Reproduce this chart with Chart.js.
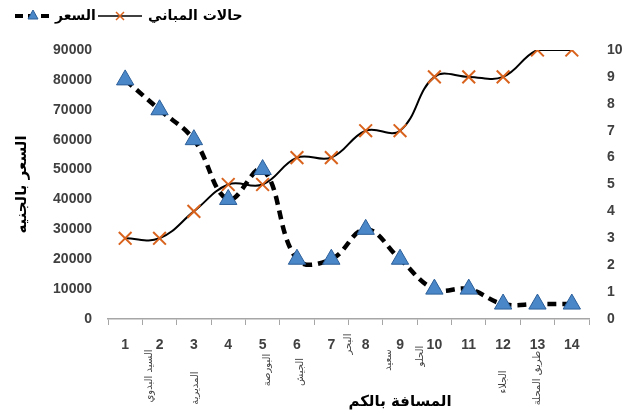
<!DOCTYPE html>
<html>
<head>
<meta charset="utf-8">
<script src="https://cdn.jsdelivr.net/npm/chart.js@4.4.1/dist/chart.umd.min.js"></script>
<style>
  html, body { margin: 0; padding: 0; background: #fff; }
  #wrap { width: 629px; height: 414px; position: relative; }
</style>
</head>
<body>
<div id="wrap"><canvas id="c" width="629" height="414"></canvas></div>
<script>
// Distance from the centre (km)
const distances = ['1','2','3','4','5','6','7','8','9','10','11','12','13','14'];
// Land price (EGP) - left axis
const priceValues = [80000, 70000, 60000, 40000, 50000, 20000, 20000, 30000, 20000, 10000, 10000, 5000, 5000, 5000];
// Building condition score - right axis
const buildingValues = [3, 3, 4, 5, 5, 6, 6, 7, 7, 9, 9, 9, 10, 10];

const priceTicks = [0, 10000, 20000, 30000, 40000, 50000, 60000, 70000, 80000, 90000];
const buildingTicks = [0, 1, 2, 3, 4, 5, 6, 7, 8, 9, 10];

// Place names written under the distance axis, with the distance they sit at
const placeNames = ['السيد البدوي', 'المديرية', 'البورصة', 'الجيش', 'البحر', 'سعيد', 'الحلو', 'الجلاء', 'طريق المحلة'];
const placeAt = [1.7, 3.05, 5.15, 6.1, 7.5, 8.65, 9.6, 12, 13];

const seriesNames = ['السعر', 'حالات المباني'];
const xTitle = 'المسافة بالكم';
const yTitle = 'السعر بالجنيه';

const TICK_FONT = { family: 'Liberation Sans', size: 14, weight: 'bold' };
const TICK_COLOR = '#404040';
const ORANGE = '#d9621c';
const BLUE = '#4a87c9';
const BLUE_EDGE = '#2c5f99';

// Legend and under-axis labels drawn straight onto the canvas
const decorations = {
  id: 'decorations',
  afterDraw(chart) {
    const ctx = chart.ctx;
    const xs = chart.scales.x;
    ctx.save();

    // legend
    const ly = 16;
    ctx.strokeStyle = '#000';
    ctx.lineWidth = 4;
    ctx.setLineDash([8, 5]);
    ctx.beginPath(); ctx.moveTo(15, ly); ctx.lineTo(50, ly); ctx.stroke();
    ctx.setLineDash([]);
    ctx.fillStyle = BLUE; ctx.strokeStyle = BLUE_EDGE; ctx.lineWidth = 1;
    ctx.beginPath(); ctx.moveTo(33, ly - 6); ctx.lineTo(38, ly + 3); ctx.lineTo(28, ly + 3); ctx.closePath();
    ctx.fill(); ctx.stroke();

    ctx.font = 'bold 14px "DejaVu Sans"';
    ctx.fillStyle = '#000';
    ctx.textBaseline = 'middle';
    ctx.textAlign = 'left';
    ctx.fillText(seriesNames[0], 55, ly);

    ctx.strokeStyle = '#000'; ctx.lineWidth = 1.5;
    ctx.beginPath(); ctx.moveTo(98, ly); ctx.lineTo(142, ly); ctx.stroke();
    ctx.strokeStyle = ORANGE; ctx.lineWidth = 1.5;
    ctx.beginPath();
    ctx.moveTo(116, ly - 4); ctx.lineTo(124, ly + 4);
    ctx.moveTo(124, ly - 4); ctx.lineTo(116, ly + 4);
    ctx.stroke();
    ctx.fillStyle = '#000';
    ctx.fillText(seriesNames[1], 148, ly);

    // place names, rotated
    ctx.font = '10px "DejaVu Sans"';
    ctx.fillStyle = '#444';
    ctx.textAlign = 'center';
    const yCentres = [376, 388, 370, 372, 344, 360, 356, 382, 378];
    placeNames.forEach((name, i) => {
      const x = xs.getPixelForValue(placeAt[i] - 1);
      ctx.save();
      ctx.translate(x, yCentres[i]);
      ctx.rotate(-Math.PI / 2);
      ctx.fillText(name, 0, 0);
      ctx.restore();
    });

    // x axis title
    ctx.font = 'bold 15px "DejaVu Sans"';
    ctx.fillStyle = '#000';
    ctx.textAlign = 'center';
    ctx.fillText(xTitle, 400, 402);
    ctx.restore();
  }
};

const plain = v => String(v);

new Chart(document.getElementById('c'), {
  type: 'line',
  data: {
    labels: distances,
    datasets: [
      {
        label: seriesNames[0],
        data: priceValues,
        yAxisID: 'y',
        borderColor: '#000',
        borderWidth: 4.5,
        borderDash: [9, 6],
        tension: 0.4,
        pointStyle: 'triangle',
        pointRadius: 10,
        pointBackgroundColor: BLUE,
        pointBorderColor: BLUE_EDGE,
        pointBorderWidth: 1,
        order: 1
      },
      {
        label: seriesNames[1],
        data: buildingValues,
        yAxisID: 'y1',
        borderColor: '#000',
        borderWidth: 2,
        tension: 0.4,
        pointStyle: 'crossRot',
        pointRadius: 9,
        pointBorderColor: ORANGE,
        pointBorderWidth: 2,
        order: 2
      }
    ]
  },
  options: {
    responsive: false,
    animation: false,
    layout: { padding: { top: 50, left: 0, right: 0, bottom: 0 } },
    plugins: { legend: { display: false }, tooltip: { enabled: false } },
    scales: {
      x: {
        offset: true,
        grid: { offset: true, drawOnChartArea: false, drawTicks: true, tickLength: 6, color: '#a6a6a6' },
        border: { display: true, color: '#a6a6a6', width: 1.5 },
        ticks: { font: TICK_FONT, color: TICK_COLOR, padding: 12, maxRotation: 0 },
        afterFit(s) { s.height = 414 - 319; }
      },
      y: {
        position: 'left',
        min: 0, max: 90000,
        afterBuildTicks(s) { s.ticks = priceTicks.map(v => ({ value: v })); },
        grid: { display: false },
        border: { display: false },
        ticks: { font: TICK_FONT, color: TICK_COLOR, padding: 8, callback: plain },
        title: { display: true, text: yTitle, font: { family: 'DejaVu Sans', size: 15, weight: 'bold' }, color: '#000', padding: { top: 13, bottom: 0 } },
        afterFit(s) { s.width = 108; }
      },
      y1: {
        position: 'right',
        min: 0, max: 10,
        afterBuildTicks(s) { s.ticks = buildingTicks.map(v => ({ value: v })); },
        grid: { display: false },
        border: { display: false },
        ticks: { font: TICK_FONT, color: TICK_COLOR, padding: 10, callback: plain },
        afterFit(s) { s.width = 629 - 589; }
      }
    }
  },
  plugins: [decorations]
});
</script>
</body>
</html>
